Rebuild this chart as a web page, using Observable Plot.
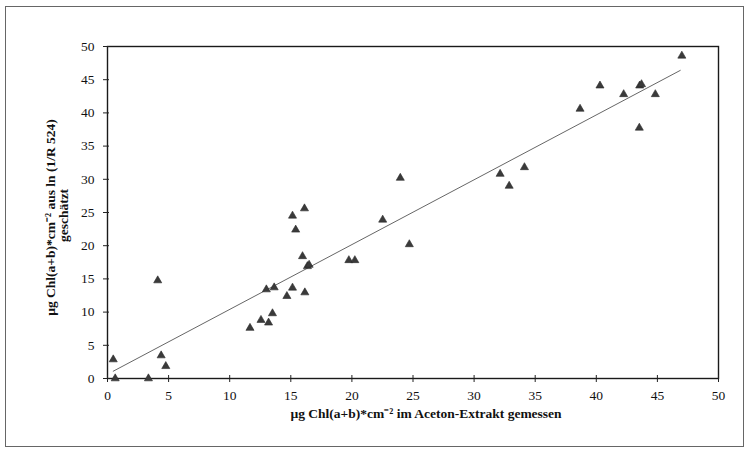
<!DOCTYPE html>
<html>
<head>
<meta charset="utf-8">
<script src="https://cdn.jsdelivr.net/npm/d3@7"></script>
<script src="https://cdn.jsdelivr.net/npm/@observablehq/plot@0.6"></script>
<style>
  html, body { margin: 0; padding: 0; background: #fff; }
  #wrap { position: relative; width: 749px; height: 454px; }
  #border { position: absolute; left: 5px; top: 6px; width: 737px; height: 439px; border: 1px solid #666; pointer-events: none; }
</style>
</head>
<body>
<div id="wrap"><div id="border"></div></div>
<script>
// Measured (Aceton-Extrakt) values, x axis
const measured = [0.47, 0.63, 3.35, 4.11, 4.39, 4.77,
  11.66, 12.56, 13.18, 13.5, 13.0, 13.64, 14.68, 15.14, 15.14, 15.4, 15.96, 16.12, 16.15, 16.36, 16.5,
  19.75, 20.24, 22.52, 23.96, 24.7, 32.13, 32.87, 34.12,
  38.67, 40.3, 42.24, 43.55, 43.7, 43.52, 44.83, 47.0];
// Estimated from ln(1/R524), y axis
const estimated = [2.86, 0, 0, 14.76, 3.46, 1.85,
  7.6, 8.8, 8.4, 9.8, 13.4, 13.7, 12.4, 24.5, 13.66, 22.4, 18.4, 25.6, 12.95, 16.9, 17.1,
  17.8, 17.8, 23.9, 30.2, 20.2, 30.8, 29.0, 31.8,
  40.6, 44.1, 42.8, 44.1, 44.3, 37.75, 42.8, 48.6];
// Regression line endpoints
const lineX = [0.47, 46.87];
const lineY = [1.1, 46.4];
const ticks = [0, 5, 10, 15, 20, 25, 30, 35, 40, 45, 50];
const xLabel = "µg Chl(a+b)*cm⁻² im Aceton-Extrakt gemessen";
const yLabel1 = "µg Chl(a+b)*cm⁻² aus ln (1/R 524)";
const yLabel2 = "geschätzt";

const points = measured.map((x, i) => ({x, y: estimated[i]}));
const line = lineX.map((x, i) => ({x, y: lineY[i]}));

const font = "'Liberation Serif', 'Times New Roman', serif";

const chart = Plot.plot({
  width: 749,
  height: 454,
  marginLeft: 107,
  marginRight: 31,
  marginTop: 46,
  marginBottom: 76,
  style: {fontFamily: font, fontSize: "13px", color: "#111", background: "transparent"},
  x: {domain: [0, 50], ticks: ticks},
  y: {domain: [0, 50], ticks: ticks},
  marks: [
    Plot.frame({stroke: "#1a1a1a", strokeWidth: 1.4}),
    Plot.axisX({ticks: ticks, tickSize: 4, tickPadding: 8, label: null, stroke: "#222", fill: "#111", fontSize: 13.5}),
    Plot.axisX({ticks: ticks, tickSize: -3, tickFormat: () => "", label: null, stroke: "#222"}),
    Plot.axisY({ticks: ticks, tickSize: 4, tickPadding: 9, label: null, stroke: "#222", fill: "#111", fontSize: 13.5}),
    Plot.axisY({ticks: ticks, tickSize: -2, tickFormat: () => "", label: null, stroke: "#222"}),
    Plot.line(line, {x: "x", y: "y", stroke: "#555", strokeWidth: 0.9}),
    Plot.dot(points, {x: "x", y: "y", symbol: "triangle", r: 3, fill: "#3a3a3a", stroke: "#2a2a2a", strokeWidth: 0.6}),
    Plot.text([xLabel], {text: d => d, frameAnchor: "bottom", textAnchor: "middle", dx: 13, dy: 35, fontWeight: "bold", fontSize: 13.5, fill: "#111", lineAnchor: "middle"}),
    Plot.text([yLabel1], {text: d => d, frameAnchor: "left", textAnchor: "middle", rotate: -90, dx: -57, dy: 5, fontWeight: "bold", fontSize: 13.5, fill: "#111", lineAnchor: "middle"}),
    Plot.text([yLabel2], {text: d => d, frameAnchor: "left", textAnchor: "middle", rotate: -90, dx: -44, dy: 3, fontWeight: "bold", fontSize: 13.5, fill: "#111", lineAnchor: "middle"})
  ]
});
document.getElementById("wrap").appendChild(chart);
chart.style.position = "absolute";
chart.style.left = "0";
chart.style.top = "0";
</script>
</body>
</html>
